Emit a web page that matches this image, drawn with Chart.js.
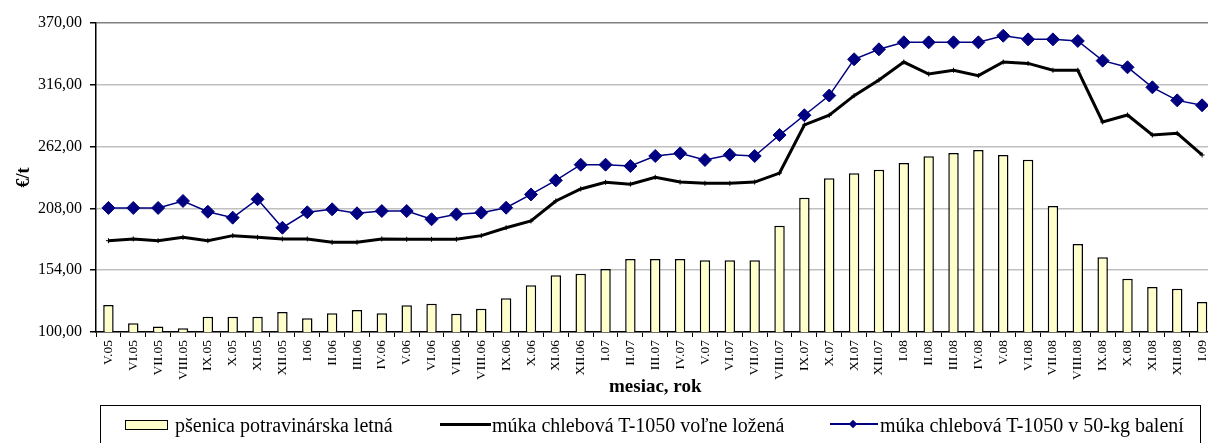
<!DOCTYPE html>
<html>
<head>
<meta charset="utf-8">
<script src="https://cdn.jsdelivr.net/npm/chart.js@4/dist/chart.umd.min.js"></script>
<style>
  html, body { margin: 0; padding: 0; background: #fff; overflow: hidden; width: 1208px; height: 443px; }
  #wrap { position: absolute; left: 0; top: 0; width: 1222px; height: 443px; }
  #legend { position: absolute; left: 100px; top: 405px; width: 1101px; height: 60px; border: 1px solid #000; box-sizing: border-box; font-family: "Liberation Serif", "Times New Roman", serif; font-size: 20px; color: #000; }
  .lt { position: absolute; top: 9px; white-space: nowrap; line-height: 20px; }
  .sw { position: absolute; left: 24px; top: 14px; width: 43px; height: 10px; background: #FFFFCC; border: 1px solid #000; box-sizing: border-box; }
  .ln1 { position: absolute; left: 339px; top: 17px; width: 51px; height: 3px; background: #000; }
  .ln2 { position: absolute; left: 729px; top: 17px; width: 48px; height: 1.5px; background: #000080; }
  .dm { position: absolute; left: 749px; top: 15px; width: 6px; height: 6px; background: #000080; transform: rotate(45deg); }
</style>
</head>
<body>
<div id="wrap"><canvas id="c" width="1222" height="443"></canvas></div>
<div id="legend">
  <div class="sw"></div><div class="lt" style="left:74px">pšenica potravinárska letná</div>
  <div class="ln1"></div><div class="lt" style="left:391px">múka chlebová T-1050 voľne ložená</div>
  <div class="ln2"></div><div class="dm"></div><div class="lt" style="left:779px">múka chlebová T-1050 v 50-kg balení</div>
</div>
<script>
const categories = ["V.05","VI.05","VII.05","VIII.05","IX.05","X.05","XI.05","XII.05",
  "I.06","II.06","III.06","IV.06","V.06","VI.06","VII.06","VIII.06","IX.06","X.06","XI.06","XII.06",
  "I.07","II.07","III.07","IV.07","V.07","VI.07","VII.07","VIII.07","IX.07","X.07","XI.07","XII.07",
  "I.08","II.08","III.08","IV.08","V.08","VI.08","VII.08","VIII.08","IX.08","X.08","XI.08","XII.08","I.09"];

const wheat = [123.6,107.6,104.7,103.2,113.4,113.4,113.4,117.5,
  112.0,116.3,119.2,116.3,123.3,124.7,116.0,120.4,129.4,140.8,149.5,151.0,
  155.1,163.8,163.8,163.8,162.6,162.6,162.6,192.9,217.4,234.3,238.7,241.8,
  247.7,253.5,256.4,259.0,254.7,250.6,210.1,176.9,165.3,146.6,139.3,137.8,126.2];

const flourBulk = [179.8,181.3,179.8,182.7,179.8,184.2,182.7,181.3,
  181.3,178.4,178.4,181.3,181.0,181.0,181.0,184.2,191.1,197.0,214.5,225.0,
  230.8,229.2,235.2,231.0,229.9,229.9,231.0,238.9,280.9,289.4,306.5,320.2,
  335.9,325.4,328.7,324.0,335.9,334.7,328.7,328.7,283.5,289.6,272.1,273.6,254.7];

const flourBag = [208.4,208.4,208.4,214.5,205.1,199.9,216.0,191.1,
  204.6,207.2,203.7,205.7,205.7,198.5,202.8,204.3,208.6,220.2,232.5,246.2,
  246.2,245.0,253.8,256.1,250.3,254.9,253.8,272.1,289.4,306.6,338.3,347.0,
  353.1,353.1,353.1,353.1,358.9,355.7,355.7,354.3,337.1,331.3,313.8,302.4,298.1];

const yTicks = [100, 154, 208, 262, 316, 370];

const serif = "'Liberation Serif', 'Times New Roman', serif";

new Chart(document.getElementById('c'), {
  data: {
    labels: categories,
    datasets: [
      { type: 'bar', label: 'pšenica potravinárska letná', data: wheat,
        backgroundColor: '#FFFFCC', borderColor: '#000', borderWidth: 1.5,
        barPercentage: 0.42, categoryPercentage: 1.0, order: 3 },
      { type: 'line', label: 'múka chlebová T-1050 voľne ložená', data: flourBulk,
        borderColor: '#000', borderWidth: 3, tension: 0,
        pointStyle: 'cross', pointRadius: 2.5, pointBorderWidth: 1, pointBorderColor: '#000',
        order: 2 },
      { type: 'line', label: 'múka chlebová T-1050 v 50-kg balení', data: flourBag,
        borderColor: '#000080', borderWidth: 1.5, tension: 0,
        pointStyle: 'rectRot', pointRadius: 6.5, pointBackgroundColor: '#000080', pointBorderColor: '#000080',
        pointBorderWidth: 1, order: 1 }
    ]
  },
  options: {
    responsive: false,
    devicePixelRatio: 1,
    animation: false,
    layout: { padding: { left: 0, right: 3, top: 23, bottom: 45 } },
    plugins: { legend: { display: false }, tooltip: { enabled: false } },
    scales: {
      x: {
        type: 'category',
        offset: true,
        grid: { display: true, drawOnChartArea: false, offset: true, color: '#000', tickLength: 5, lineWidth: 1 },
        border: { display: true, color: '#000', width: 1.5 },
        ticks: { minRotation: 90, maxRotation: 90, autoSkip: false, color: '#000', padding: 3,
                 font: { family: serif, size: 13.5 } },
        title: { display: true, text: 'mesiac, rok', color: '#000', padding: { top: 0, bottom: 0 },
                 font: { family: serif, size: 19, weight: 'bold' } },
        afterFit: (s) => { s.height = 66; }
      },
      y: {
        min: 100, max: 370,
        afterBuildTicks: (s) => { s.ticks = yTicks.map(v => ({ value: v })); },
        grid: { color: (ctx) => ctx.tick && ctx.tick.value === 370 ? '#808080' : '#c0c0c0',
                lineWidth: 1.5, tickColor: '#000', tickLength: 6 },
        border: { display: true, color: '#000', width: 1.5 },
        ticks: { color: '#000', padding: 8, font: { family: serif, size: 16 },
                 callback: (v) => Number(v).toFixed(2).replace('.', ',') },
        title: { display: true, text: '€/t', color: '#000', padding: { top: 14, bottom: 0 },
                 font: { family: serif, size: 18, weight: 'bold' } },
        afterFit: (s) => { s.width = 96; }
      }
    }
  }
});
</script>
</body>
</html>
